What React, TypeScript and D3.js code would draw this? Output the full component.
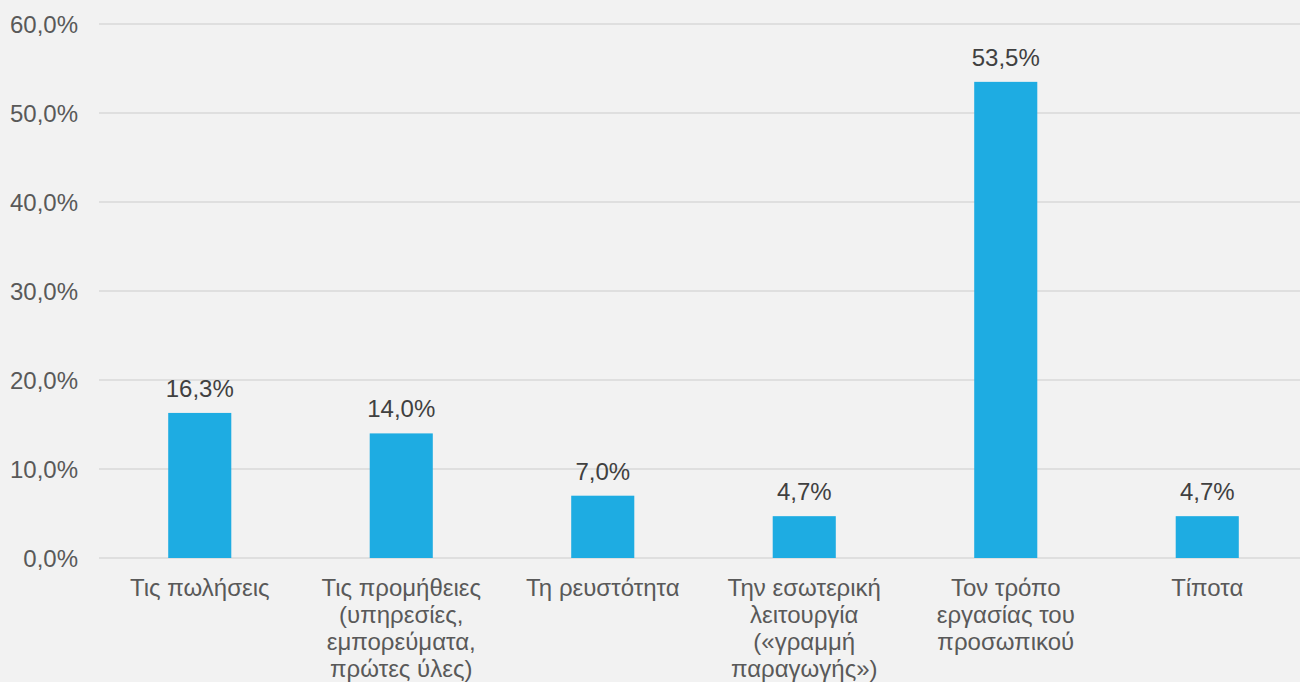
import React, { useEffect, useRef } from "react";
import * as d3 from "d3";

const categoryLines: string[][] = [
  ["Τις πωλήσεις"],
  ["Τις προμήθειες", "(υπηρεσίες,", "εμπορεύματα,", "πρώτες ύλες)"],
  ["Τη ρευστότητα"],
  ["Την εσωτερική", "λειτουργία", "(«γραμμή", "παραγωγής»)"],
  ["Τον τρόπο", "εργασίας του", "προσωπικού"],
  ["Τίποτα"],
];
const values: number[] = [16.3, 14.0, 7.0, 4.7, 53.5, 4.7];
const yTicks: number[] = [0, 10, 20, 30, 40, 50, 60];

const W = 1300;
const H = 682;
const FONT = "'Liberation Sans', Arial, sans-serif";
const fmt = (v: number) => v.toFixed(1).replace(".", ",") + "%";

export default function App() {
  const ref = useRef<SVGSVGElement | null>(null);

  useEffect(() => {
    const svg = d3.select(ref.current);
    svg.selectAll("*").remove();

    const plotLeft = 99;
    const plotRight = 1308;
    const plotTop = 24;
    const plotBottom = 558;

    const idx = values.map((_, i) => i);
    const x = d3
      .scaleBand<number>()
      .domain(idx)
      .range([plotLeft, plotRight])
      .paddingInner(0.687)
      .paddingOuter(0.687 / 2);
    const y = d3.scaleLinear().domain([0, 60]).range([plotBottom, plotTop]);

    svg
      .append("rect")
      .attr("width", W)
      .attr("height", H)
      .attr("fill", "#f2f2f2");

    // gridlines
    svg
      .append("g")
      .selectAll("line")
      .data(yTicks)
      .join("line")
      .attr("x1", plotLeft)
      .attr("x2", plotRight)
      .attr("y1", (d) => y(d))
      .attr("y2", (d) => y(d))
      .attr("stroke", "#d9d9d9")
      .attr("stroke-width", 1.4);

    // y tick labels
    svg
      .append("g")
      .selectAll("text")
      .data(yTicks)
      .join("text")
      .attr("x", 78)
      .attr("y", (d) => y(d) + 8.6)
      .attr("text-anchor", "end")
      .attr("font-family", FONT)
      .attr("font-size", 24)
      .attr("fill", "#595959")
      .text((d) => fmt(d));

    // bars
    svg
      .append("g")
      .selectAll("rect")
      .data(idx)
      .join("rect")
      .attr("x", (i) => x(i)!)
      .attr("width", x.bandwidth())
      .attr("y", (i) => y(values[i]))
      .attr("height", (i) => y(0) - y(values[i]))
      .attr("fill", "#1eace2");

    // data labels
    svg
      .append("g")
      .selectAll("text")
      .data(idx)
      .join("text")
      .attr("x", (i) => x(i)! + x.bandwidth() / 2)
      .attr("y", (i) => y(values[i]) - 16)
      .attr("text-anchor", "middle")
      .attr("font-family", FONT)
      .attr("font-size", 24)
      .attr("fill", "#404040")
      .text((i) => fmt(values[i]));

    // category labels
    const cat = svg
      .append("g")
      .selectAll("text")
      .data(idx)
      .join("text")
      .attr("text-anchor", "middle")
      .attr("font-family", FONT)
      .attr("font-size", 24)
      .attr("fill", "#595959");
    cat.each(function (i) {
      const t = d3.select(this);
      categoryLines[i].forEach((line, k) => {
        t.append("tspan")
          .attr("x", x(i)! + x.bandwidth() / 2)
          .attr("y", 596 + k * 27)
          .text(line);
      });
    });
  }, []);

  return (
    <svg
      ref={ref}
      width={W}
      height={H}
      style={{ position: "absolute", left: 0, top: 0, display: "block" }}
    />
  );
}
